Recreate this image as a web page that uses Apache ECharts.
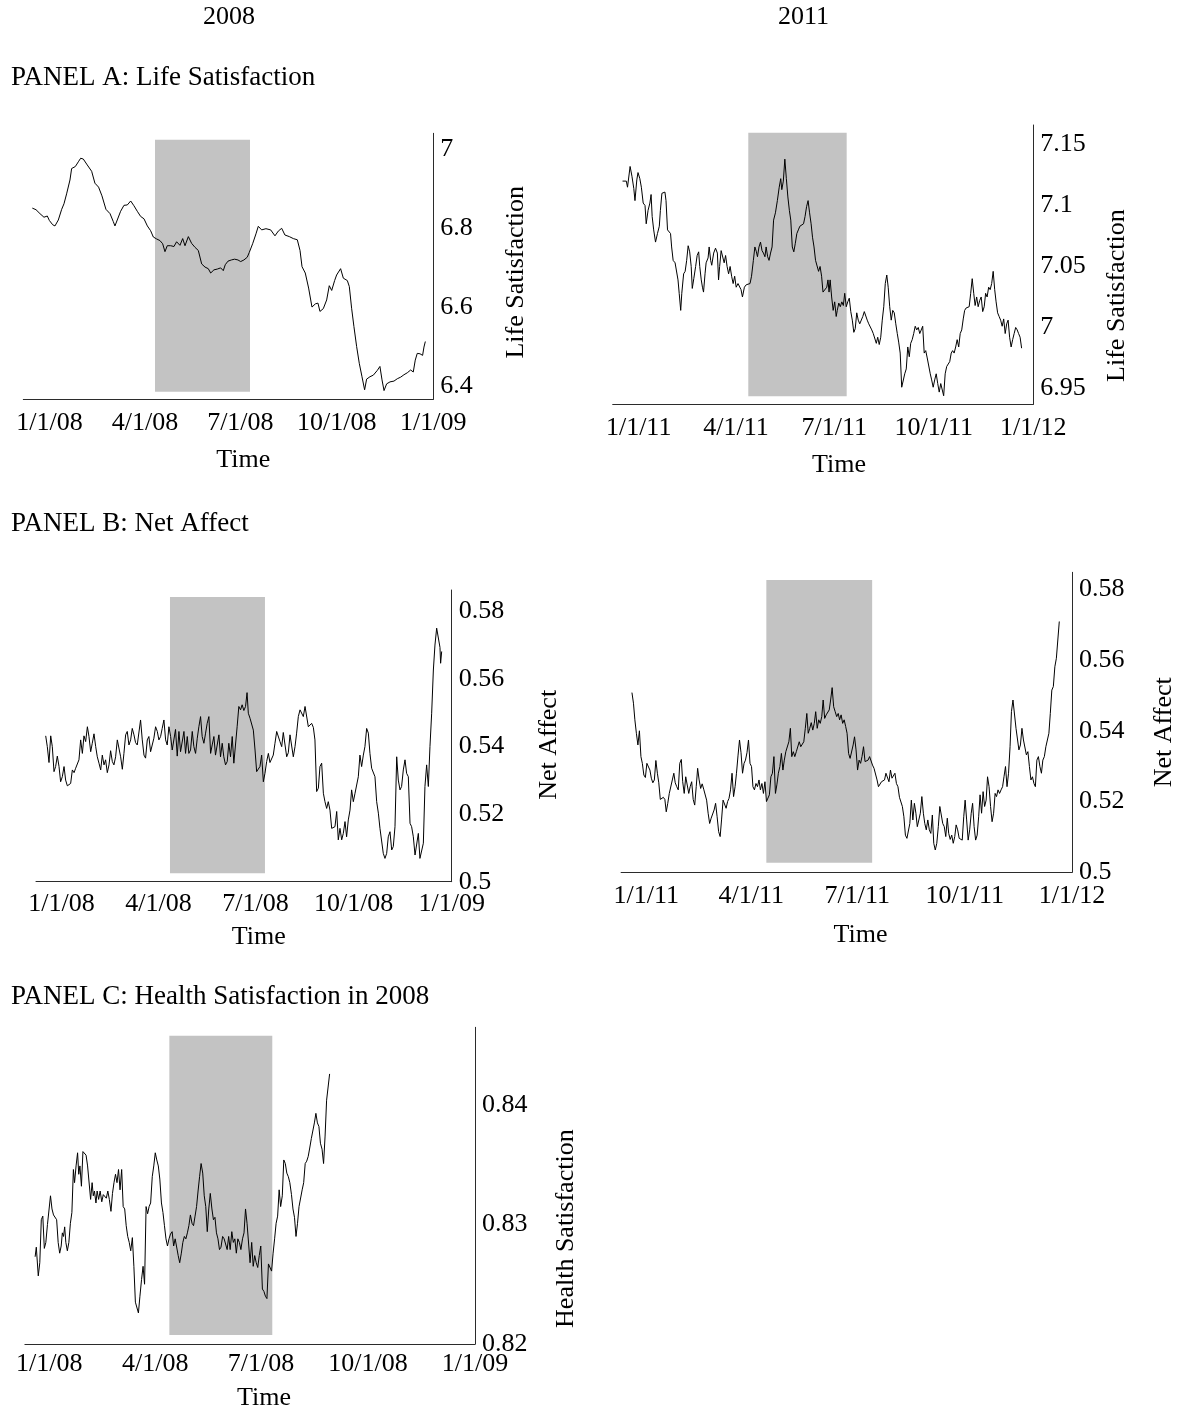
<!DOCTYPE html>
<html>
<head>
<meta charset="utf-8">
<title>Life satisfaction, net affect and health satisfaction</title>
<script src="https://cdn.jsdelivr.net/npm/echarts@6/dist/echarts.min.js"></script>
<style>
  html, body { margin: 0; padding: 0; background: #fff; }
  #chart { width: 1178px; height: 1412px; }
</style>
</head>
<body>
<div id="chart"></div>
<script>
// x = days counted from Jan 1 of the panel's year
var ticks2008 = [0, 91, 182, 274, 366];
var labels2008 = ['1/1/08', '4/1/08', '7/1/08', '10/1/08', '1/1/09'];
var ticks2011 = [0, 90, 181, 273, 365];
var labels2011 = ['1/1/11', '4/1/11', '7/1/11', '10/1/11', '1/1/12'];

var lifeTicks2008 = [6.4, 6.6, 6.8, 7];
var lifeTicks2011 = [6.95, 7, 7.05, 7.1, 7.15];
var affectTicks = [0.5, 0.52, 0.54, 0.56, 0.58];
var healthTicks = [0.82, 0.83, 0.84];

// grey period: [from day, to day, low value, high value]
var shadeLife2008 = [100.6, 191.2, 6.387, 7.0235];
var shadeLife2011 = [101.4, 192.4, 6.9437, 7.1597];
var shadeAffect2008 = [101.7, 190.8, 0.5025, 0.5843];
var shadeAffect2011 = [103.0, 193.7, 0.5027, 0.5826];
var shadeHealth2008 = [103.2, 191.7, 0.82075, 0.8458];

var lifeSat2008 = [[-16.4,6.851],[-12.9,6.847],[-9.1,6.837],[-5.3,6.828],[-2.1,6.831],[-0.2,6.820],[3.0,6.809],[5.2,6.806],[8.4,6.821],[11.6,6.848],[13.8,6.862],[16.3,6.887],[19.5,6.922],[21.1,6.951],[24.6,6.956],[27.5,6.968],[29.7,6.977],[32.2,6.975],[36.0,6.960],[40.2,6.944],[43.3,6.914],[46.8,6.904],[50.0,6.882],[53.8,6.848],[57.7,6.837],[60.8,6.817],[62.4,6.806],[64.6,6.821],[67.8,6.843],[71.0,6.858],[74.2,6.859],[77.4,6.869],[80.5,6.857],[83.7,6.843],[86.9,6.830],[90.1,6.824],[93.3,6.806],[96.4,6.794],[99.0,6.778],[102.2,6.773],[105.3,6.769],[107.9,6.761],[110.1,6.741],[112.3,6.756],[115.5,6.756],[118.7,6.754],[121.2,6.766],[124.4,6.757],[127.0,6.774],[129.2,6.756],[132.4,6.779],[135.5,6.762],[138.7,6.752],[141.9,6.744],[145.1,6.710],[148.3,6.702],[151.4,6.698],[153.7,6.687],[156.8,6.695],[160.0,6.697],[163.2,6.700],[165.7,6.693],[167.6,6.708],[170.2,6.717],[173.4,6.720],[176.5,6.722],[179.7,6.720],[182.3,6.716],[185.4,6.720],[188.6,6.727],[190.5,6.739],[193.7,6.761],[196.9,6.786],[199.1,6.805],[202.3,6.796],[206.4,6.799],[210.9,6.796],[215.0,6.781],[218.2,6.793],[221.4,6.800],[224.5,6.783],[228.7,6.779],[232.5,6.774],[236.3,6.771],[238.9,6.744],[240.8,6.703],[243.9,6.687],[247.1,6.649],[250.3,6.601],[253.5,6.609],[256.0,6.611],[257.9,6.590],[261.1,6.597],[264.3,6.619],[266.8,6.655],[269.1,6.643],[271.9,6.668],[273.8,6.682],[275.7,6.687],[277.6,6.698],[280.2,6.674],[282.1,6.678],[284.0,6.668],[285.9,6.653],[288.1,6.598],[290.3,6.552],[292.9,6.501],[295.4,6.459],[298.0,6.425],[300.5,6.392],[302.4,6.419],[305.6,6.425],[308.8,6.429],[312.6,6.441],[315.1,6.451],[317.1,6.417],[319.0,6.390],[321.5,6.407],[324.7,6.412],[328.5,6.414],[331.7,6.420],[334.9,6.424],[338.0,6.430],[341.2,6.435],[344.4,6.442],[346.9,6.437],[348.8,6.467],[350.7,6.484],[353.3,6.483],[355.8,6.479],[357.1,6.500],[358.4,6.514]];

var lifeSat2011 = [[-14.9,7.120],[-13.1,7.121],[-11.4,7.120],[-10.3,7.115],[-9.3,7.115],[-7.9,7.132],[-6.2,7.124],[-4.5,7.114],[-3.4,7.104],[-1.7,7.121],[-0.6,7.127],[1.1,7.122],[2.5,7.115],[4.2,7.102],[5.9,7.100],[7.0,7.085],[8.7,7.096],[10.4,7.102],[11.5,7.109],[12.5,7.091],[13.9,7.080],[15.6,7.070],[17.4,7.077],[19.1,7.083],[20.1,7.096],[21.5,7.110],[23.3,7.110],[24.3,7.111],[25.3,7.104],[26.7,7.080],[28.1,7.080],[29.5,7.077],[30.5,7.066],[31.9,7.055],[33.7,7.053],[34.7,7.054],[36.4,7.039],[37.5,7.028],[38.9,7.014],[39.9,7.028],[41.6,7.044],[43.0,7.046],[44.4,7.055],[45.8,7.067],[47.2,7.062],[48.6,7.050],[49.6,7.032],[51.0,7.040],[52.7,7.050],[54.1,7.059],[55.5,7.062],[56.5,7.050],[57.9,7.039],[59.0,7.033],[60.0,7.029],[61.4,7.044],[62.4,7.053],[64.2,7.057],[65.2,7.066],[66.6,7.055],[67.6,7.051],[69.4,7.061],[71.1,7.065],[72.8,7.061],[73.9,7.039],[74.9,7.050],[76.3,7.063],[78.0,7.063],[79.1,7.053],[80.4,7.059],[81.8,7.050],[83.2,7.044],[84.6,7.050],[86.0,7.042],[87.4,7.036],[88.8,7.042],[90.2,7.033],[91.9,7.036],[93.3,7.037],[94.7,7.031],[96.0,7.025],[97.8,7.033],[99.5,7.035],[101.2,7.034],[103.0,7.036],[104.4,7.042],[106.1,7.055],[107.5,7.066],[108.9,7.062],[109.9,7.058],[111.3,7.066],[112.7,7.070],[114.1,7.063],[115.4,7.061],[116.8,7.058],[117.9,7.066],[119.3,7.058],[120.6,7.055],[122.0,7.061],[123.4,7.066],[124.8,7.088],[126.5,7.094],[128.3,7.104],[130.0,7.115],[131.4,7.122],[132.4,7.113],[133.8,7.120],[135.2,7.138],[136.6,7.122],[138.0,7.107],[139.4,7.096],[140.7,7.088],[142.1,7.066],[143.5,7.062],[144.9,7.069],[146.3,7.077],[147.7,7.080],[149.1,7.083],[150.8,7.084],[152.5,7.085],[153.9,7.091],[155.3,7.099],[156.7,7.104],[158.1,7.094],[159.5,7.085],[160.8,7.074],[162.2,7.066],[163.6,7.055],[165.0,7.054],[166.4,7.046],[167.8,7.050],[169.2,7.042],[170.5,7.029],[172.3,7.029],[174.0,7.033],[175.1,7.039],[176.1,7.029],[177.1,7.039],[178.5,7.025],[179.9,7.014],[181.3,7.021],[182.7,7.009],[183.7,7.014],[185.1,7.020],[186.5,7.017],[187.9,7.021],[189.3,7.018],[190.6,7.028],[192.0,7.017],[193.4,7.021],[194.8,7.024],[196.2,7.013],[197.6,7.006],[199.0,6.996],[200.3,6.999],[201.7,7.012],[203.1,7.006],[204.5,7.003],[205.9,7.004],[207.3,7.009],[208.7,7.013],[210.1,7.014],[211.4,7.006],[212.8,7.003],[214.2,7.002],[215.6,6.998],[217.0,6.995],[218.4,6.994],[219.8,6.987],[221.1,6.992],[222.5,6.986],[223.9,6.992],[225.3,7.006],[226.7,7.017],[228.1,7.036],[229.5,7.043],[230.8,7.033],[232.2,7.017],[233.6,7.006],[235.0,7.014],[236.4,7.012],[237.8,7.003],[239.2,6.995],[240.5,6.988],[241.9,6.979],[243.3,6.951],[244.7,6.950],[246.1,6.962],[247.5,6.966],[248.9,6.984],[250.3,6.976],[251.6,6.987],[253.0,6.990],[254.4,6.995],[255.8,7.001],[257.2,6.998],[258.6,7.000],[260.0,6.995],[261.3,6.996],[262.7,7.001],[264.1,6.979],[265.5,6.981],[266.9,6.975],[268.3,6.976],[269.7,6.962],[271.0,6.957],[272.4,6.951],[273.8,6.957],[275.2,6.962],[276.6,6.954],[278.0,6.947],[279.4,6.954],[280.7,6.955],[282.1,6.944],[283.5,6.962],[284.9,6.968],[286.3,6.968],[287.7,6.972],[289.1,6.979],[290.4,6.981],[291.8,6.979],[293.2,6.984],[294.6,6.990],[296.0,6.984],[297.4,6.995],[298.8,6.998],[300.2,7.007],[301.5,7.014],[302.9,7.016],[304.3,7.016],[305.7,7.017],[307.1,7.028],[308.5,7.040],[309.9,7.028],[311.2,7.018],[312.6,7.025],[314.0,7.017],[315.4,7.022],[316.8,7.025],[318.2,7.013],[319.6,7.017],[320.9,7.028],[322.3,7.025],[323.7,7.033],[325.1,7.031],[326.5,7.036],[327.9,7.046],[329.3,7.031],[330.6,7.021],[332.0,7.012],[333.4,7.009],[334.8,7.006],[336.2,7.001],[337.6,7.007],[339.0,6.995],[340.4,7.003],[341.7,7.006],[343.1,6.992],[344.5,6.984],[345.9,6.990],[347.3,6.995],[348.7,7.000],[350.1,6.998],[351.4,6.995],[352.8,6.992],[354.2,6.983]];

var netAffect2008 = [[-14.9,0.5432],[-13.4,0.5400],[-11.8,0.5353],[-10.2,0.5432],[-8.7,0.5400],[-7.1,0.5326],[-5.6,0.5341],[-4.0,0.5372],[-2.4,0.5341],[-0.9,0.5296],[0.7,0.5311],[2.3,0.5341],[3.8,0.5301],[5.4,0.5284],[7.0,0.5280],[8.5,0.5291],[10.1,0.5331],[11.7,0.5323],[13.2,0.5336],[14.8,0.5331],[16.3,0.5361],[17.9,0.5420],[19.5,0.5380],[21.0,0.5432],[22.6,0.5415],[24.2,0.5459],[25.7,0.5430],[27.3,0.5385],[28.8,0.5410],[30.4,0.5438],[32.0,0.5400],[33.5,0.5370],[35.1,0.5351],[36.7,0.5331],[38.2,0.5375],[39.8,0.5346],[41.3,0.5361],[42.9,0.5323],[44.5,0.5346],[46.0,0.5388],[47.6,0.5356],[49.1,0.5346],[50.7,0.5370],[52.3,0.5420],[53.8,0.5422],[55.4,0.5370],[57.0,0.5333],[58.5,0.5380],[60.1,0.5435],[61.6,0.5445],[63.2,0.5405],[64.8,0.5420],[66.3,0.5454],[67.9,0.5435],[69.4,0.5412],[71.0,0.5405],[72.6,0.5410],[74.1,0.5479],[75.7,0.5420],[77.3,0.5375],[78.8,0.5366],[80.4,0.5420],[81.9,0.5430],[83.5,0.5385],[85.1,0.5390],[86.6,0.5425],[88.2,0.5459],[89.8,0.5445],[91.3,0.5420],[92.9,0.5430],[94.4,0.5454],[96.0,0.5479],[97.6,0.5420],[99.1,0.5405],[100.7,0.5459],[102.3,0.5430],[103.8,0.5390],[105.4,0.5395],[106.9,0.5451],[108.5,0.5372],[110.1,0.5445],[111.6,0.5385],[113.2,0.5390],[114.8,0.5445],[116.3,0.5380],[117.9,0.5430],[119.4,0.5380],[121.0,0.5390],[122.6,0.5445],[124.1,0.5400],[125.7,0.5380],[127.3,0.5425],[128.8,0.5459],[130.4,0.5489],[131.9,0.5430],[133.5,0.5410],[135.1,0.5440],[136.6,0.5469],[138.2,0.5489],[139.8,0.5380],[141.3,0.5405],[142.9,0.5430],[144.4,0.5375],[146.0,0.5375],[147.6,0.5435],[149.1,0.5370],[150.7,0.5410],[152.2,0.5370],[153.8,0.5346],[155.4,0.5356],[156.9,0.5410],[158.5,0.5370],[160.1,0.5430],[161.6,0.5351],[163.2,0.5353],[164.7,0.5459],[166.3,0.5519],[167.9,0.5509],[169.4,0.5524],[171.0,0.5507],[172.6,0.5519],[174.0,0.5560],[175.2,0.5499],[176.8,0.5484],[178.3,0.5479],[179.9,0.5449],[181.5,0.5390],[183.0,0.5326],[184.6,0.5323],[186.1,0.5341],[187.7,0.5375],[189.3,0.5296],[190.8,0.5321],[192.4,0.5356],[194.0,0.5380],[195.5,0.5353],[197.1,0.5356],[198.6,0.5375],[200.2,0.5410],[201.8,0.5445],[203.3,0.5440],[204.9,0.5415],[206.5,0.5400],[208.0,0.5442],[209.6,0.5440],[211.2,0.5370],[212.7,0.5382],[214.3,0.5435],[215.8,0.5430],[217.4,0.5370],[219.0,0.5400],[220.5,0.5440],[222.1,0.5489],[223.7,0.5509],[225.2,0.5514],[226.8,0.5489],[228.4,0.5519],[229.9,0.5519],[231.5,0.5459],[233.0,0.5461],[234.6,0.5469],[236.2,0.5457],[237.7,0.5420],[239.3,0.5267],[240.9,0.5277],[242.4,0.5341],[244.0,0.5351],[245.6,0.5262],[247.1,0.5237],[248.7,0.5217],[250.2,0.5237],[251.8,0.5212],[253.4,0.5158],[254.9,0.5158],[256.5,0.5163],[258.1,0.5208],[259.6,0.5124],[261.2,0.5158],[262.8,0.5124],[264.3,0.5143],[265.9,0.5178],[267.4,0.5133],[269.0,0.5183],[270.6,0.5212],[272.1,0.5272],[273.7,0.5237],[275.3,0.5262],[276.8,0.5267],[278.4,0.5311],[279.9,0.5375],[281.5,0.5341],[283.1,0.5375],[284.6,0.5400],[286.2,0.5454],[287.8,0.5440],[289.3,0.5380],[290.9,0.5336],[292.5,0.5341],[294.0,0.5311],[295.6,0.5237],[297.2,0.5203],[298.7,0.5158],[300.3,0.5153],[301.8,0.5084],[303.4,0.5069],[305.0,0.5084],[306.5,0.5133],[308.1,0.5148],[309.7,0.5094],[311.2,0.5104],[312.8,0.5163],[314.4,0.5370],[315.9,0.5301],[317.5,0.5272],[319.0,0.5282],[320.6,0.5331],[322.2,0.5361],[323.7,0.5321],[325.3,0.5311],[326.9,0.5173],[328.4,0.5163],[330.0,0.5133],[331.6,0.5079],[333.1,0.5084],[334.7,0.5143],[336.2,0.5069],[337.8,0.5064],[339.4,0.5114],[340.9,0.5282],[342.5,0.5346],[344.1,0.5282],[345.6,0.5400],[347.2,0.5499],[348.8,0.5627],[350.3,0.5701],[351.9,0.5751],[353.5,0.5751],[355.0,0.5694],[355.6,0.5647],[356.6,0.5682]];

var netAffect2011 = [[-12.2,0.5508],[-10.9,0.5478],[-9.7,0.5431],[-8.4,0.5393],[-7.1,0.5360],[-5.8,0.5400],[-4.5,0.5327],[-3.3,0.5308],[-2.0,0.5275],[-0.7,0.5268],[0.6,0.5308],[1.9,0.5303],[3.2,0.5289],[4.4,0.5266],[5.7,0.5253],[7.0,0.5261],[8.3,0.5316],[9.6,0.5280],[10.8,0.5253],[12.1,0.5206],[13.4,0.5204],[14.7,0.5212],[16.0,0.5206],[17.2,0.5171],[18.5,0.5195],[19.8,0.5223],[21.1,0.5228],[22.4,0.5261],[23.7,0.5280],[24.9,0.5253],[26.2,0.5242],[27.5,0.5233],[28.8,0.5308],[30.1,0.5319],[31.3,0.5256],[32.6,0.5223],[33.9,0.5270],[35.2,0.5275],[36.5,0.5223],[37.7,0.5242],[39.0,0.5256],[40.3,0.5206],[41.6,0.5190],[42.9,0.5242],[44.1,0.5294],[45.4,0.5261],[46.7,0.5237],[48.0,0.5250],[49.3,0.5235],[50.6,0.5233],[51.8,0.5204],[53.1,0.5167],[54.4,0.5138],[55.7,0.5153],[57.0,0.5157],[58.2,0.5176],[59.5,0.5195],[60.8,0.5157],[62.1,0.5115],[63.4,0.5101],[64.6,0.5148],[65.9,0.5204],[67.2,0.5204],[68.5,0.5181],[69.8,0.5200],[71.0,0.5209],[72.3,0.5233],[73.6,0.5280],[74.9,0.5214],[76.2,0.5242],[77.4,0.5280],[78.7,0.5329],[80.0,0.5374],[81.3,0.5338],[82.6,0.5280],[83.9,0.5308],[85.1,0.5317],[86.4,0.5338],[87.7,0.5374],[89.0,0.5308],[90.3,0.5299],[91.5,0.5242],[92.8,0.5233],[94.1,0.5251],[95.4,0.5242],[96.7,0.5261],[97.9,0.5233],[99.2,0.5251],[100.5,0.5223],[101.8,0.5256],[103.1,0.5200],[104.3,0.5195],[105.6,0.5219],[106.9,0.5270],[108.2,0.5280],[109.5,0.5327],[110.8,0.5223],[112.0,0.5247],[113.3,0.5280],[114.6,0.5299],[115.9,0.5336],[117.2,0.5289],[118.4,0.5317],[119.7,0.5341],[121.0,0.5336],[122.3,0.5369],[123.6,0.5407],[124.8,0.5327],[126.1,0.5341],[127.4,0.5327],[128.7,0.5341],[130.0,0.5346],[131.2,0.5369],[132.5,0.5355],[133.8,0.5355],[135.1,0.5369],[136.4,0.5407],[137.7,0.5449],[138.9,0.5393],[140.2,0.5407],[141.5,0.5423],[142.8,0.5402],[144.1,0.5421],[145.3,0.5454],[146.6,0.5407],[147.9,0.5431],[149.2,0.5421],[150.5,0.5440],[151.7,0.5487],[153.0,0.5435],[154.3,0.5445],[155.6,0.5440],[156.9,0.5459],[158.1,0.5487],[159.4,0.5522],[160.7,0.5468],[162.0,0.5454],[163.3,0.5440],[164.6,0.5449],[165.8,0.5431],[167.1,0.5445],[168.4,0.5421],[169.7,0.5431],[171.0,0.5412],[172.2,0.5393],[173.5,0.5336],[174.8,0.5322],[176.1,0.5327],[177.4,0.5360],[178.6,0.5383],[179.9,0.5346],[181.2,0.5289],[182.5,0.5317],[183.8,0.5308],[185.0,0.5327],[186.3,0.5355],[187.6,0.5313],[188.9,0.5317],[190.2,0.5317],[191.5,0.5327],[192.7,0.5332],[194.0,0.5303],[195.3,0.5294],[196.6,0.5294],[197.9,0.5261],[199.1,0.5242],[200.4,0.5247],[201.7,0.5256],[203.0,0.5251],[204.3,0.5261],[205.5,0.5280],[206.8,0.5275],[208.1,0.5256],[209.4,0.5289],[210.7,0.5266],[211.9,0.5270],[213.2,0.5280],[214.5,0.5251],[215.8,0.5242],[217.1,0.5212],[218.3,0.5209],[219.6,0.5186],[220.9,0.5157],[222.2,0.5105],[223.5,0.5096],[224.8,0.5101],[226.0,0.5138],[227.3,0.5204],[228.6,0.5148],[229.9,0.5195],[231.2,0.5167],[232.4,0.5129],[233.7,0.5134],[235.0,0.5167],[236.3,0.5214],[237.6,0.5167],[238.8,0.5138],[240.1,0.5120],[241.4,0.5148],[242.7,0.5120],[244.0,0.5110],[245.3,0.5162],[246.5,0.5082],[247.8,0.5063],[249.1,0.5082],[250.4,0.5129],[251.7,0.5186],[252.9,0.5186],[254.2,0.5138],[255.5,0.5129],[256.8,0.5101],[258.1,0.5153],[259.3,0.5110],[260.6,0.5093],[261.9,0.5105],[263.2,0.5082],[264.5,0.5101],[265.7,0.5134],[267.0,0.5120],[268.3,0.5096],[269.6,0.5101],[270.9,0.5091],[272.2,0.5157],[273.4,0.5204],[274.7,0.5148],[276.0,0.5091],[277.3,0.5120],[278.6,0.5167],[279.8,0.5195],[281.1,0.5129],[282.4,0.5091],[283.7,0.5105],[285.0,0.5157],[286.2,0.5219],[287.5,0.5167],[288.8,0.5228],[290.1,0.5186],[291.4,0.5204],[292.6,0.5270],[293.9,0.5242],[295.2,0.5186],[296.5,0.5143],[297.8,0.5167],[299.1,0.5223],[300.3,0.5214],[301.6,0.5233],[302.9,0.5223],[304.2,0.5233],[305.5,0.5242],[306.7,0.5270],[308.0,0.5299],[309.3,0.5242],[310.6,0.5280],[311.9,0.5355],[313.1,0.5454],[314.4,0.5487],[315.7,0.5492],[317.0,0.5407],[318.3,0.5402],[319.5,0.5346],[320.8,0.5360],[322.1,0.5407],[323.4,0.5374],[324.7,0.5369],[325.9,0.5332],[327.2,0.5341],[328.5,0.5299],[329.8,0.5261],[331.1,0.5270],[332.4,0.5251],[333.6,0.5242],[334.9,0.5317],[336.2,0.5327],[337.5,0.5299],[338.8,0.5280],[340.0,0.5317],[341.3,0.5327],[342.6,0.5355],[343.9,0.5360],[345.2,0.5393],[346.4,0.5449],[347.7,0.5515],[349.0,0.5525],[350.3,0.5581],[351.6,0.5605],[352.8,0.5600],[354.1,0.5709]];

var healthSat2008 = [[-12.2,0.8273],[-11.2,0.8281],[-9.5,0.8257],[-8.2,0.8268],[-6.9,0.8304],[-5.6,0.8307],[-4.3,0.8280],[-3.0,0.8285],[-1.6,0.8300],[-0.3,0.8301],[1.0,0.8324],[2.3,0.8313],[3.6,0.8308],[4.9,0.8307],[6.3,0.8304],[7.6,0.8285],[8.9,0.8276],[10.2,0.8282],[11.2,0.8293],[12.2,0.8290],[13.2,0.8298],[14.2,0.8285],[15.5,0.8278],[16.8,0.8285],[18.1,0.8301],[19.4,0.8310],[20.7,0.8346],[21.7,0.8335],[23.0,0.8349],[24.3,0.8360],[25.3,0.8342],[26.3,0.8349],[27.6,0.8332],[28.9,0.8361],[30.3,0.8361],[31.6,0.8358],[32.9,0.8349],[34.2,0.8349],[35.5,0.8321],[36.8,0.8335],[37.8,0.8324],[38.8,0.8328],[40.1,0.8318],[41.1,0.8328],[42.4,0.8321],[43.7,0.8328],[45.1,0.8319],[46.4,0.8325],[47.7,0.8326],[49.0,0.8322],[50.3,0.8328],[51.6,0.8321],[53.0,0.8311],[54.3,0.8326],[55.6,0.8335],[56.9,0.8342],[58.2,0.8335],[59.5,0.8346],[60.8,0.8329],[62.2,0.8346],[63.5,0.8315],[64.8,0.8313],[66.1,0.8299],[67.4,0.8290],[68.7,0.8285],[70.0,0.8278],[71.4,0.8289],[72.7,0.8265],[74.0,0.8235],[75.3,0.8236],[76.6,0.8226],[77.9,0.8240],[79.3,0.8254],[80.6,0.8265],[81.9,0.8250],[83.2,0.8315],[84.5,0.8309],[85.8,0.8315],[87.1,0.8318],[88.5,0.8340],[89.8,0.8349],[91.1,0.8360],[92.4,0.8354],[93.7,0.8349],[95.0,0.8338],[96.4,0.8318],[97.7,0.8310],[99.0,0.8299],[100.3,0.8288],[101.6,0.8282],[102.9,0.8288],[104.2,0.8292],[105.6,0.8294],[106.9,0.8282],[108.2,0.8288],[109.5,0.8288],[110.8,0.8274],[112.1,0.8268],[113.5,0.8276],[114.8,0.8285],[116.1,0.8290],[117.4,0.8288],[118.7,0.8293],[120.0,0.8299],[121.3,0.8308],[122.7,0.8301],[124.0,0.8299],[125.3,0.8307],[126.6,0.8315],[127.9,0.8328],[129.2,0.8340],[130.5,0.8351],[131.9,0.8343],[133.2,0.8324],[134.5,0.8315],[135.8,0.8294],[137.1,0.8313],[138.4,0.8326],[139.8,0.8313],[141.1,0.8304],[142.4,0.8306],[143.7,0.8293],[145.0,0.8288],[146.3,0.8279],[147.6,0.8281],[149.0,0.8290],[150.3,0.8288],[151.6,0.8288],[152.9,0.8279],[154.2,0.8290],[155.5,0.8279],[156.9,0.8294],[158.2,0.8285],[159.5,0.8288],[160.8,0.8276],[162.1,0.8288],[163.4,0.8285],[164.7,0.8279],[166.1,0.8288],[167.4,0.8293],[168.7,0.8313],[170.0,0.8301],[171.3,0.8300],[172.6,0.8268],[174.0,0.8285],[175.3,0.8265],[176.6,0.8274],[177.9,0.8268],[179.2,0.8264],[180.5,0.8274],[181.8,0.8282],[183.2,0.8246],[184.5,0.8244],[185.8,0.8240],[187.1,0.8238],[188.4,0.8267],[189.7,0.8268],[191.1,0.8261],[192.4,0.8276],[193.7,0.8288],[195.0,0.8301],[196.3,0.8307],[197.6,0.8329],[198.9,0.8315],[200.3,0.8324],[201.6,0.8354],[202.9,0.8351],[204.2,0.8343],[205.5,0.8340],[206.8,0.8335],[208.2,0.8325],[209.5,0.8313],[210.8,0.8306],[212.1,0.8290],[213.4,0.8301],[214.7,0.8315],[216.0,0.8314],[217.4,0.8329],[218.7,0.8335],[220.0,0.8351],[221.3,0.8353],[222.6,0.8357],[223.9,0.8364],[225.3,0.8372],[226.6,0.8372],[227.9,0.8385],[229.2,0.8393],[230.5,0.8385],[231.8,0.8382],[233.1,0.8368],[234.5,0.8363],[235.8,0.8351],[237.1,0.8374],[238.4,0.8404],[239.7,0.8404],[241.0,0.8426]];

window.onload = function () {
  var chart = echarts.init(document.getElementById('chart'), null, { renderer: 'canvas' });
  var font = 'Liberation Serif';
  var axisColor = '#2b2b2b';

  var grids = [], xAxes = [], yAxes = [], series = [];

  function numLabel(v) {
    return String(+v.toFixed(4));
  }

  function addPanel(p) {
    var i = grids.length;
    grids.push({ left: p.box[0], top: p.box[1], width: p.box[2], height: p.box[3] });
    xAxes.push({
      type: 'value',
      gridIndex: i,
      min: p.xRange[0],
      max: p.xRange[1],
      axisLine: { onZero: false, lineStyle: { color: axisColor, width: 1 } },
      axisTick: { show: false },
      splitLine: { show: false },
      axisLabel: {
        customValues: p.xTicks,
        formatter: function (v) {
          for (var k = 0; k < p.xTicks.length; k++) {
            if (Math.abs(p.xTicks[k] - v) < 0.01) return p.xLabels[k];
          }
          return '';
        },
        margin: p.labelGap,
        color: '#000',
        fontFamily: font,
        fontSize: 26
      },
      name: 'Time',
      nameLocation: 'middle',
      nameGap: p.timeGap,
      nameTextStyle: { color: '#000', fontFamily: font, fontSize: 26, padding: [0, 0, 0, p.timeShift * 2] }
    });
    yAxes.push({
      type: 'value',
      gridIndex: i,
      position: 'right',
      min: p.yRange[0],
      max: p.yRange[1],
      axisLine: { show: true, onZero: false, lineStyle: { color: axisColor, width: 1 } },
      axisTick: { show: false },
      splitLine: { show: false },
      axisLabel: {
        customValues: p.yTicks,
        formatter: numLabel,
        margin: 7,
        color: '#000',
        fontFamily: font,
        fontSize: 26
      },
      name: p.yName,
      nameLocation: 'middle',
      nameGap: p.yNameGap,
      nameTextStyle: { color: '#000', fontFamily: font, fontSize: 26, padding: [0, p.yNameShift * 2, 0, 0] }
    });
    series.push({
      type: 'line',
      xAxisIndex: i,
      yAxisIndex: i,
      data: p.data,
      symbol: 'none',
      showSymbol: false,
      lineStyle: { color: '#000', width: 1 },
      z: 3,
      markArea: {
        silent: true,
        itemStyle: { color: '#c3c3c3' },
        data: [[
          { xAxis: p.shade[0], yAxis: p.shade[2] },
          { xAxis: p.shade[1], yAxis: p.shade[3] }
        ]]
      }
    });
  }

  addPanel({ box: [23.3, 133.3, 410, 266], xRange: [-25, 366], yRange: [6.368, 7.040],
    xTicks: ticks2008, xLabels: labels2008, yTicks: lifeTicks2008, data: lifeSat2008, shade: shadeLife2008,
    labelGap: 11, timeGap: 48, timeShift: 15, yName: 'Life Satisfaction', yNameGap: 70, yNameShift: 6 });
  addPanel({ box: [612.7, 125, 420.6, 279.3], xRange: [-24, 365], yRange: [6.937, 7.166],
    xTicks: ticks2011, xLabels: labels2011, yTicks: lifeTicks2011, data: lifeSat2011, shade: shadeLife2011,
    labelGap: 11, timeGap: 48, timeShift: 16, yName: 'Life Satisfaction', yNameGap: 71, yNameShift: 31 });
  addPanel({ box: [36, 590, 415.7, 291.7], xRange: [-24, 366], yRange: [0.5, 0.5864],
    xTicks: ticks2008, xLabels: labels2008, yTicks: affectTicks, data: netAffect2008, shade: shadeAffect2008,
    labelGap: 9, timeGap: 42, timeShift: 15, yName: 'Net Affect', yNameGap: 84, yNameShift: 9 });
  addPanel({ box: [621.1, 572.3, 452.2, 300], xRange: [-21.5, 365], yRange: [0.5, 0.5848],
    xTicks: ticks2011, xLabels: labels2011, yTicks: affectTicks, data: netAffect2011, shade: shadeAffect2011,
    labelGap: 11, timeGap: 50, timeShift: 14, yName: 'Net Affect', yNameGap: 79, yNameShift: 10 });
  addPanel({ box: [24.9, 1027.3, 450.1, 316.7], xRange: [-21, 366], yRange: [0.82, 0.8465],
    xTicks: ticks2008, xLabels: labels2008, yTicks: healthTicks, data: healthSat2008, shade: shadeHealth2008,
    labelGap: 7, timeGap: 41, timeShift: 14, yName: 'Health Satisfaction', yNameGap: 78, yNameShift: 43 });

  var yearStyle = { color: '#000', fontFamily: font, fontSize: 26, fontWeight: 'normal' };
  var panelStyle = { color: '#000', fontFamily: font, fontSize: 27, fontWeight: 'normal' };
  chart.setOption({
    animation: false,
    backgroundColor: '#fff',
    title: [
      { text: '2008', left: 203, top: 4, padding: 0, textStyle: yearStyle },
      { text: '2011', left: 778, top: 4, padding: 0, textStyle: yearStyle },
      { text: 'PANEL A: Life Satisfaction', left: 11, top: 64, padding: 0, textStyle: panelStyle },
      { text: 'PANEL B: Net Affect', left: 11, top: 510, padding: 0, textStyle: panelStyle },
      { text: 'PANEL C: Health Satisfaction in 2008', left: 11, top: 983, padding: 0, textStyle: panelStyle }
    ],
    grid: grids,
    xAxis: xAxes,
    yAxis: yAxes,
    series: series
  });
};
</script>
</body>
</html>
